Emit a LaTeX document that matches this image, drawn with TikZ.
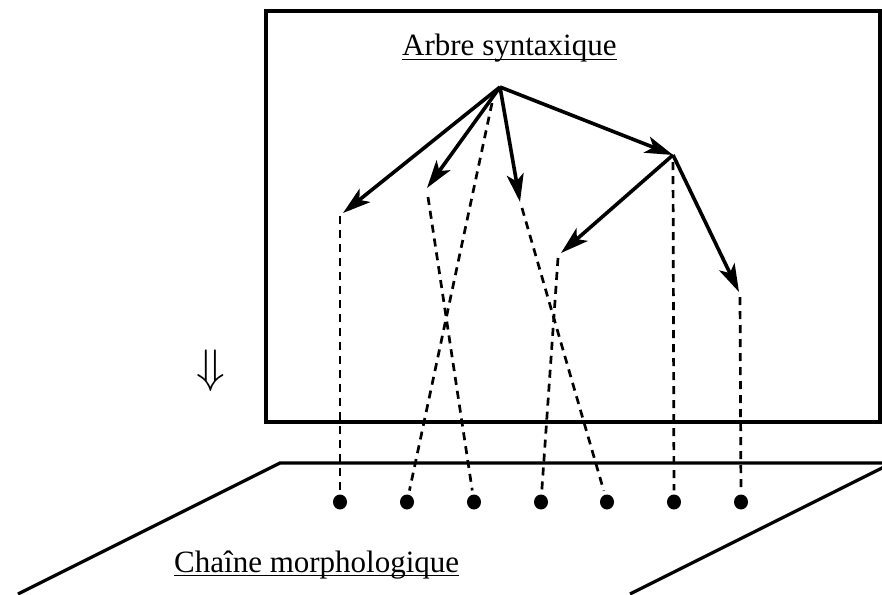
\documentclass[tikz,border=0pt]{standalone}
\usepackage{fontspec}
\setmainfont{Liberation Serif}
\usetikzlibrary{arrows.meta,shapes.geometric}
\begin{document}
\begin{tikzpicture}[x=1pt,y=-1pt,
  treearc/.style={line width=3.6pt,-{Stealth[length=28pt,width=17pt,inset=7pt]}},
  link/.style={line width=2.7pt,dash pattern=on 8pt off 6pt,shorten >=4pt},
  morph/.style={ellipse,fill=black,inner sep=0pt,minimum width=14pt,minimum height=15pt},
  boxframe/.style={line width=3.2pt},
  titletext/.style={font=\fontsize{31}{31}\selectfont,inner sep=0pt,anchor=base west},
  uline/.style={line width=1.7pt}]
\useasboundingbox (0,0) rectangle (882,594);
\clip (0,0) rectangle (882,594);
% frame of the syntactic tree
\draw[boxframe] (266,11) rectangle (880,422);
% plane of the morphological string
\draw[boxframe] (18,594) -- (280,463) -- (900,463);
\draw[boxframe] (892,463) -- (630,594);
% titles
\node[titletext] (ta) at (402,56) {Arbre syntaxique};
\draw[uline] ([yshift=-3.5pt]ta.base west) -- ([yshift=-3.5pt]ta.base east);
\node[titletext] (tc) at (174,572) {Chaîne morphologique};
\draw[uline] ([yshift=-3.5pt]tc.base west) -- ([yshift=-3.5pt]tc.base east);
% big arrow
\node[inner sep=0pt] (da) at (211,371) {\scalebox{4.7}{$\Downarrow$}};
% tree points
\coordinate (root) at (500,87);
\coordinate (n) at (673,155);
\coordinate (t1) at (343,213); \coordinate (s1) at (340,216);
\coordinate (t2) at (427,188); \coordinate (s2) at (428,197);
\coordinate (t3) at (520,202); \coordinate (s3) at (522,208);
\coordinate (t5) at (561,253); \coordinate (s5) at (558,258);
\coordinate (t6) at (739,292); \coordinate (s6) at (740,297);
\coordinate (sr) at (492,103); \coordinate (sn) at (673,162);
% arcs
\draw[treearc] (root) -- (t1);
\draw[treearc] (root) -- (t2);
\draw[treearc] (root) -- (t3);
\draw[treearc] (root) -- (n);
\draw[treearc] (n) -- (t5);
\draw[treearc] (n) -- (t6);
% morphs
\node[morph] (m1) at (340,502) {};
\node[morph] (m2) at (407,502) {};
\node[morph] (m3) at (474,502) {};
\node[morph] (m4) at (541,502) {};
\node[morph] (m5) at (607,502) {};
\node[morph] (m6) at (674,502) {};
\node[morph] (m7) at (741,502) {};
% links
\draw[link] (s1) -- (m1);
\draw[link] (sr) -- (m2);
\draw[link] (s2) -- (m3);
\draw[link] (s5) -- (m4);
\draw[link] (s3) -- (m5);
\draw[link] (sn) -- (m6);
\draw[link] (s6) -- (m7);
\end{tikzpicture}
\end{document}
